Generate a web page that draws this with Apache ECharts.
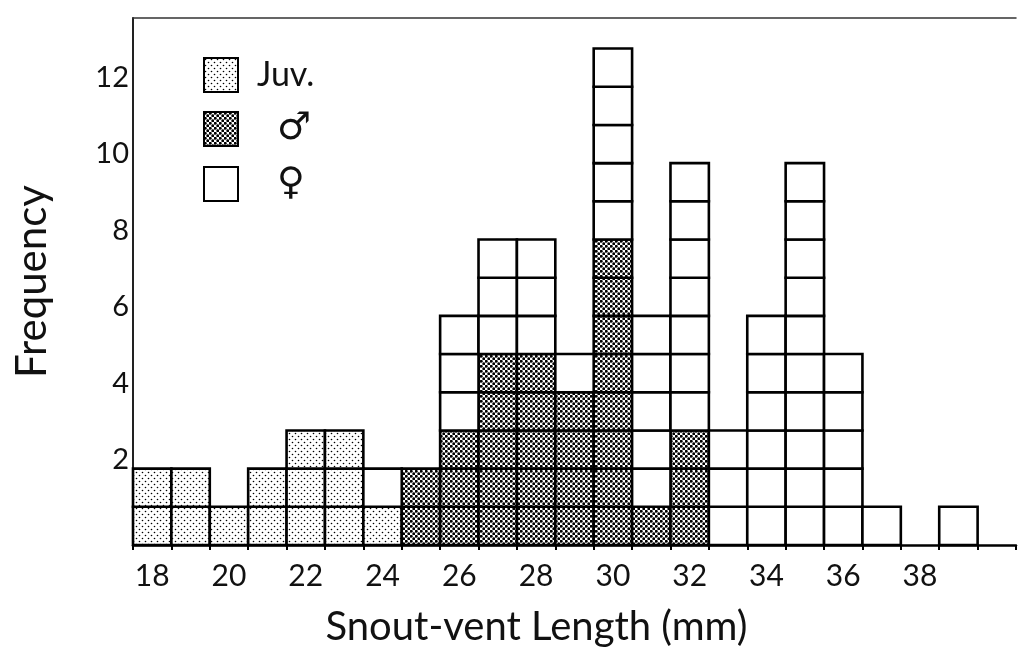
<!DOCTYPE html>
<html>
<head>
<meta charset="utf-8">
<style>
  html, body { margin: 0; padding: 0; background: #fff; }
  #chart { width: 1019px; height: 662px; }
</style>
<script src="https://cdn.jsdelivr.net/npm/echarts@6/dist/echarts.min.js"></script>
</head>
<body>
<div id="chart"></div>
<script>
// Snout-vent length classes (mm), one column per millimetre
const lengths = ['18','19','20','21','22','23','24','25','26','27','28','29','30',
                 '31','32','33','34','35','36','37','38','39','40'];
// Labelled ticks on the length axis
const lengthTicks = ['18','20','22','24','26','28','30','32','34','36','38'];
// Frequencies per class
const juveniles = [2,2,1,2,3,3,1,0,0,0,0,0,0,0,0,0,0,0,0,0,0,0,0];
const males     = [0,0,0,0,0,0,0,2,3,5,5,4,8,1,3,0,0,0,0,0,0,0,0];
const females   = [0,0,0,0,0,0,1,0,3,3,3,1,5,5,7,3,6,10,5,1,0,1,0];

const FONT = 'Lato, "DejaVu Sans", sans-serif';

// Stippled fills built on small canvases
function dotPattern(size, r) {
  const c = document.createElement('canvas');
  c.width = size; c.height = size;
  const g = c.getContext('2d');
  g.fillStyle = '#fff';
  g.fillRect(0, 0, size, size);
  g.fillStyle = '#000';
  [[size / 4, size / 4], [size * 3 / 4, size * 3 / 4]].forEach(function (p) {
    g.beginPath();
    g.arc(p[0], p[1], r, 0, Math.PI * 2);
    g.fill();
  });
  return { image: c, repeat: 'repeat' };
}
const juvFill = dotPattern(6, 0.8);
const maleFill = dotPattern(5, 1.45);
const femaleFill = '#ffffff';

// Each individual is one unit square, stacked juveniles -> males -> females
function stackItems(values, below) {
  return values.map(function (v, i) {
    let base = 0;
    below.forEach(function (arr) { base += arr[i]; });
    return [i, base, v];
  });
}

function unitSquares(fill) {
  return function (params, api) {
    const idx = api.value(0), base = api.value(1), count = api.value(2);
    const w = api.size([1, 0])[0];
    const children = [];
    for (let j = 0; j < count; j++) {
      const top = api.coord([idx, base + j + 1]);
      const bottom = api.coord([idx, base + j]);
      children.push({
        type: 'rect',
        shape: { x: top[0] - w / 2, y: top[1], width: w, height: bottom[1] - top[1] },
        style: { fill: fill, stroke: '#000', lineWidth: 2.6 }
      });
    }
    return { type: 'group', children: children };
  };
}

function groupSeries(name, values, below, fill) {
  return {
    name: name,
    type: 'custom',
    renderItem: unitSquares(fill),
    itemStyle: { color: fill, borderColor: '#000', borderWidth: 2.5 },
    encode: { x: 0, y: [1, 2] },
    data: stackItems(values, below),
    clip: false,
    silent: true
  };
}

const chart = echarts.init(document.getElementById('chart'), null, { renderer: 'canvas' });

chart.setOption({
  animation: false,
  backgroundColor: '#ffffff',
  grid: { left: 133, right: 3, top: 18, bottom: 117 },
  legend: {
    left: 203, top: 57, orient: 'vertical', padding: 0,
    icon: 'rect', itemWidth: 34, itemHeight: 34, itemGap: 17,
    selectedMode: false,
    textStyle: {
      fontFamily: FONT, fontSize: 34, color: '#111', padding: [0, 0, 0, 14],
      rich: { s: { fontFamily: '"DejaVu Sans", sans-serif', fontSize: 38, color: '#111', padding: [0, 0, 0, 20] } }
    },
    formatter: function (name) { return name === 'Juv.' ? name : '{s|' + name + '}'; },
    data: ['Juv.', '♂', '♀']
  },
  xAxis: [{
    type: 'category',
    data: lengths,
    boundaryGap: true,
    axisLine: { lineStyle: { color: '#000', width: 2.5 } },
    axisTick: { show: true, length: 5, lineStyle: { color: '#000', width: 2 } },
    axisLabel: {
      interval: 0,
      margin: 16,
      fontFamily: FONT, fontSize: 30, color: '#111',
      formatter: function (v) { return lengthTicks.indexOf(v) >= 0 ? v : ''; }
    },
    name: 'Snout-vent Length (mm)',
    nameLocation: 'middle',
    nameGap: 62,
    nameTextStyle: { fontFamily: FONT, fontSize: 40, color: '#111', padding: [0, 76, 0, 0] }
  }, {
    type: 'category',
    data: lengths,
    position: 'top',
    axisLine: { lineStyle: { color: '#333', width: 1.5 } },
    axisTick: { show: false },
    axisLabel: { show: false }
  }],
  yAxis: {
    type: 'value',
    min: 0, max: 13.8, interval: 2,
    splitLine: { show: false },
    axisTick: { show: false },
    axisLine: { show: true, lineStyle: { color: '#222', width: 2 } },
    axisLabel: {
      margin: 4,
      showMaxLabel: false,
      fontFamily: FONT, fontSize: 29, color: '#111',
      verticalAlign: 'bottom', lineHeight: 18,
      formatter: function (v) { return (v === 0 || v % 2 !== 0) ? '' : String(v); }
    },
    name: 'Frequency',
    nameLocation: 'middle',
    nameGap: 80,
    nameTextStyle: { fontFamily: FONT, fontSize: 42, color: '#111' }
  },
  series: [
    groupSeries('Juv.', juveniles, [], juvFill),
    groupSeries('♂', males, [juveniles], maleFill),
    groupSeries('♀', females, [juveniles, males], femaleFill)
  ]
});
</script>
</body>
</html>
